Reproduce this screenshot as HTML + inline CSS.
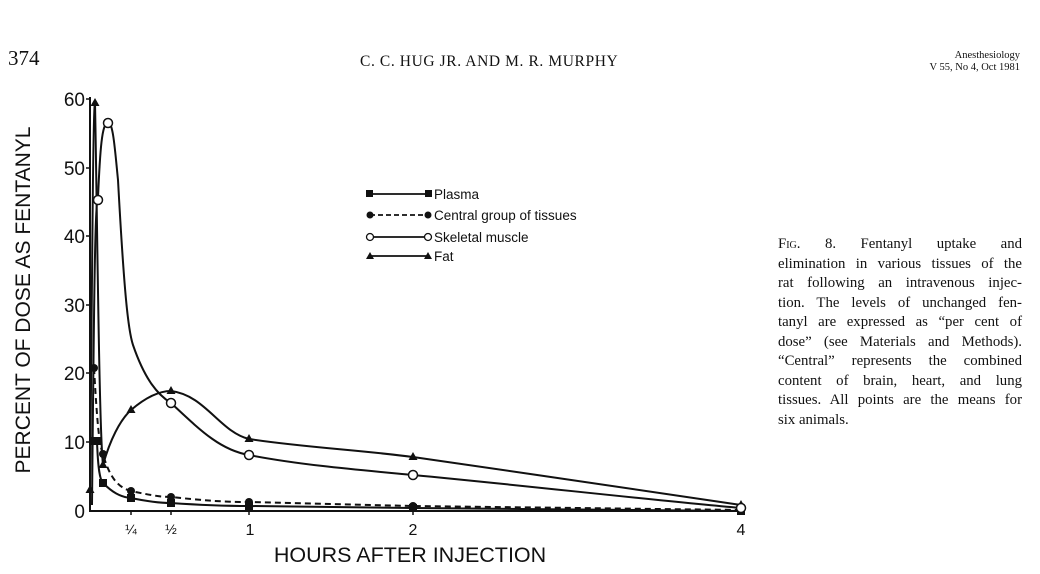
<!DOCTYPE html>
<html><head><meta charset="utf-8"><style>
body{margin:0;background:#fff;width:1040px;height:574px;overflow:hidden;position:relative;font-family:"Liberation Serif",serif;color:#111}
.cap{position:absolute;left:778px;top:235px;width:244px;font-size:14.8px;line-height:19.5px}
.cap div{text-align:justify;text-align-last:justify;white-space:nowrap}
.cap div.l{text-align-last:left}
</style></head><body>
<div style="position:absolute;left:8px;top:46px;font-size:21px">374</div>
<div style="position:absolute;left:360px;top:53px;font-size:15.5px;letter-spacing:0.6px">C. C. HUG JR. AND M. R. MURPHY</div>
<div style="position:absolute;right:20px;top:50px;font-size:10.5px;text-align:right;line-height:12px">Anesthesiology<br>V 55, No 4, Oct 1981</div>
<div class="cap">
<div><span style="font-variant:small-caps">Fig.</span> 8. Fentanyl uptake and</div>
<div>elimination in various tissues of the</div>
<div>rat following an intravenous injec-</div>
<div>tion. The levels of unchanged fen-</div>
<div>tanyl are expressed as “per cent of</div>
<div>dose” (see Materials and Methods).</div>
<div>“Central” represents the combined</div>
<div>content of brain, heart, and lung</div>
<div>tissues. All points are the means for</div>
<div class="l">six animals.</div>
</div>
<svg width="1040" height="574" style="position:absolute;left:0;top:0" font-family="Liberation Sans, sans-serif">
<g stroke="#111" stroke-width="2" fill="none">
<line x1="90" y1="97" x2="90" y2="511"/><line x1="89" y1="511" x2="745" y2="511"/>
<g stroke-width="1.5">
<line x1="86" y1="99" x2="90" y2="99"/><line x1="86" y1="168" x2="90" y2="168"/><line x1="86" y1="236" x2="90" y2="236"/><line x1="86" y1="305" x2="90" y2="305"/><line x1="86" y1="373" x2="90" y2="373"/><line x1="86" y1="442" x2="90" y2="442"/>
<line x1="131" y1="511" x2="131" y2="515"/><line x1="171" y1="511" x2="171" y2="515"/><line x1="249" y1="511" x2="249" y2="515"/><line x1="413" y1="511" x2="413" y2="515"/><line x1="741" y1="511" x2="741" y2="515"/>
</g>
<path d="M92,505 C94,300 95,200 98,198 C100,150 102,122 108,123 C113,121 115,150 118,180 C124,290 128,330 133,345 C145,380 158,395 171,403 C200,430 220,450 249,455 C300,465 360,470 413,475 C520,485 650,500 741,508"/>
<path d="M90,490 C92,300 93,103 95,103 C97,200 99,430 103,465 C110,440 120,420 131,410 C145,398 158,391 171,391 C205,395 220,432 249,439 C300,447 360,450 413,457 C520,472 650,492 741,505"/>
<path d="M92,441 L97,441 C98,470 100,480 103,483 C112,492 120,497 131,498 C150,502 160,503 171,503 C200,505 220,506 249,506 L413,508 L741,511"/>
<path stroke-dasharray="6,4" d="M94,368 C97,420 99,445 103,454 C110,480 120,488 131,491 C150,495 160,497 171,497 C200,500 220,502 249,502 L413,506 L741,510"/>
</g>
<g fill="#111">
<rect x="89" y="437" width="8" height="8"/><rect x="94" y="437" width="8" height="8"/><rect x="99" y="479" width="8" height="8"/><rect x="127" y="494" width="8" height="8"/><rect x="167" y="499" width="8" height="8"/><rect x="245" y="502" width="8" height="8"/><rect x="409" y="504" width="8" height="8"/><rect x="737" y="507" width="8" height="8"/>
<circle cx="94" cy="368" r="4"/><circle cx="103" cy="454" r="4"/><circle cx="131" cy="491" r="4"/><circle cx="171" cy="497" r="4"/><circle cx="249" cy="502" r="4"/><circle cx="413" cy="506" r="4"/>
<path d="M90,485l-4.5,8h9z M95,98l-4.5,8h9z M103,460l-4.5,8h9z M131,405l-4.5,8h9z M171,386l-4.5,8h9z M249,434l-4.5,8h9z M413,452l-4.5,8h9z M741,500l-4.5,8h9z"/>
</g>
<g fill="#fff" stroke="#111" stroke-width="1.5">
<circle cx="98" cy="200" r="4.5"/><circle cx="108" cy="123" r="4.5"/><circle cx="171" cy="403" r="4.5"/><circle cx="249" cy="455" r="4.5"/><circle cx="413" cy="475" r="4.5"/><circle cx="741" cy="508" r="4.5"/>
</g>
<g stroke="#111" stroke-width="1.8">
<line x1="370" y1="194" x2="428" y2="194"/><line x1="370" y1="215" x2="428" y2="215" stroke-dasharray="5,3"/><line x1="370" y1="237" x2="428" y2="237"/><line x1="370" y1="256" x2="428" y2="256"/>
</g>
<g fill="#111"><rect x="366" y="190" width="7" height="7"/><rect x="425" y="190" width="7" height="7"/><circle cx="370" cy="215" r="3.5"/><circle cx="428" cy="215" r="3.5"/><path d="M370,252l-4,7h8z M428,252l-4,7h8z"/></g>
<g fill="#fff" stroke="#111" stroke-width="1.3"><circle cx="370" cy="237" r="3.5"/><circle cx="428" cy="237" r="3.5"/></g>
<g font-size="13.5" fill="#111"><text x="434" y="199">Plasma</text><text x="434" y="220">Central group of tissues</text><text x="434" y="242">Skeletal muscle</text><text x="434" y="261">Fat</text></g>
<g font-size="19" fill="#111" text-anchor="end"><text x="85" y="106">60</text><text x="85" y="175">50</text><text x="85" y="243">40</text><text x="85" y="312">30</text><text x="85" y="380">20</text><text x="85" y="449">10</text><text x="85" y="518">0</text></g>
<g font-size="14" fill="#111" text-anchor="middle"><text x="131" y="534">¼</text><text x="171" y="534">½</text><text x="250" y="535" font-size="16">1</text><text x="413" y="535" font-size="16">2</text><text x="741" y="535" font-size="16">4</text></g>
<text x="410" y="562" font-size="21.5" text-anchor="middle" fill="#111">HOURS AFTER INJECTION</text>
<text transform="translate(30,300) rotate(-90)" font-size="21" text-anchor="middle" fill="#111">PERCENT OF DOSE AS FENTANYL</text>
</svg>
</body></html>
